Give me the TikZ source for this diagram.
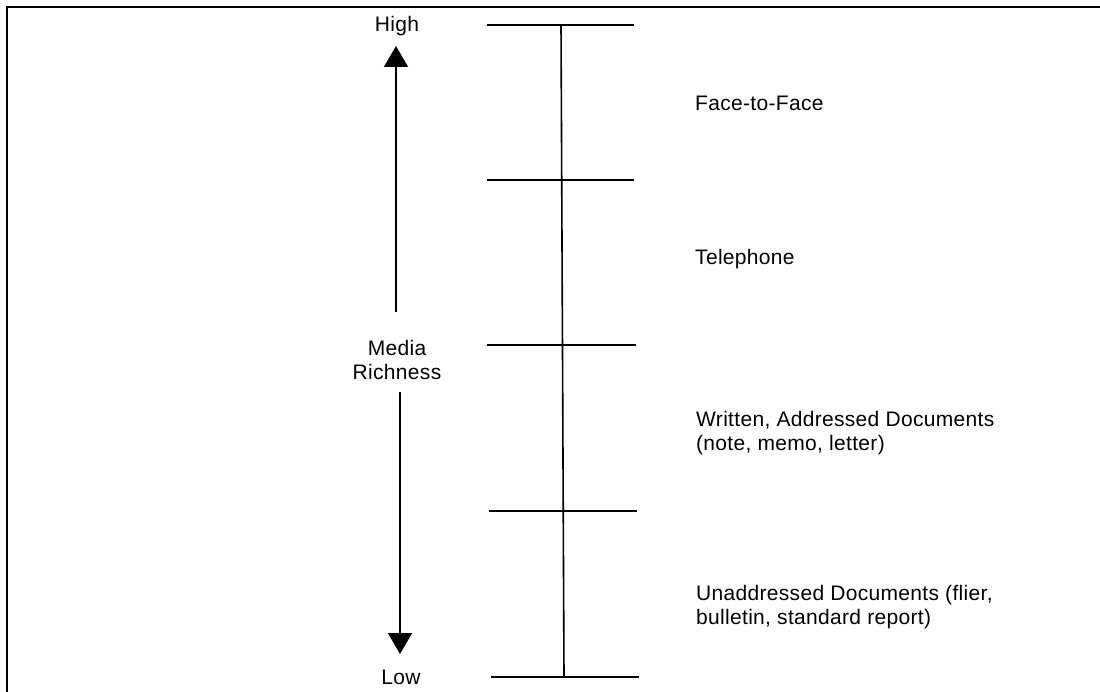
\documentclass[tikz,border=0pt]{standalone}
\usepackage{fontspec}
\setmainfont{Liberation Sans}[LetterSpace=1.5]
\usetikzlibrary{arrows.meta}
\begin{document}
\begin{tikzpicture}[x=1pt,y=-1pt,
  ln/.style={line width=1.6pt},
  lbl/.style={font=\fontsize{21}{23.5}\selectfont, inner sep=0pt, align=left, anchor=west},
  ctr/.style={font=\fontsize{21}{23.5}\selectfont, inner sep=0pt, align=center},
  bigarrow/.style={ln, -{Triangle[width=24pt,length=21pt]}}]
\useasboundingbox (0,0) rectangle (1100,692);
% partial frame
\draw[line width=2pt] (7,692) -- (7,7) -- (1100,7);
% left scale
\node[ctr] (high) at (397,26) {High};
\node[ctr] (media) at (397,360) {Media\\Richness};
\node[ctr] (low) at (401,677) {Low};
\coordinate (upbase) at (396,312);
\coordinate (uptip) at (396,46);
\coordinate (dnbase) at (400,392);
\coordinate (dntip) at (400,654);
\draw[bigarrow] (upbase) -- (uptip);
\draw[bigarrow] (dnbase) -- (dntip);
% ticks
\coordinate (t0) at (561,25);
\coordinate (t1) at (561,180);
\coordinate (t2) at (562,345);
\coordinate (t3) at (563,511);
\coordinate (t4) at (564,677);
\draw[ln] (t0) -- (t4);
\foreach \t/\l/\r in {t0/74/73, t1/74/73, t2/75/74, t3/74/74, t4/73/75}{
  \draw[ln] ([xshift=-\l pt]\t) -- ([xshift=\r pt]\t);
}
% labels
\node[lbl] (f2f) at (695,103) {Face-to-Face};
\node[lbl] (tel) at (695,259) {Telephone};
\node[lbl] (wad) at (696,433) {Written, Addressed Documents\\(note, memo, letter)};
\node[lbl] (uad) at (696,607) {Unaddressed Documents (flier,\\bulletin, standard report)};
\end{tikzpicture}
\end{document}
